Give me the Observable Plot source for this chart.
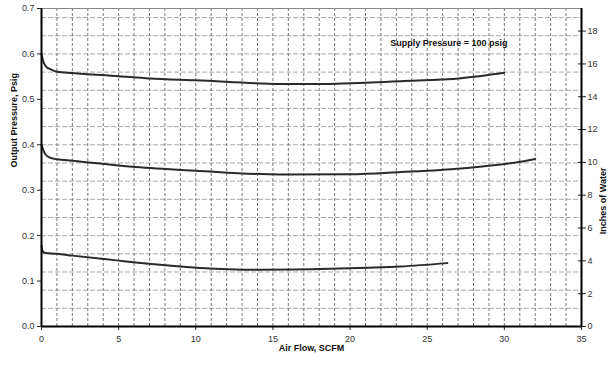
<!DOCTYPE html>
<html><head><meta charset="utf-8">
<script src="https://cdn.jsdelivr.net/npm/d3@7"></script>
<script src="https://cdn.jsdelivr.net/npm/@observablehq/plot@0.6"></script>
<style>body{margin:0;background:#fff;} #chart svg{display:block;}</style>
</head><body><div id="chart"></div>
<script>
const flow1 = [0,0.1,0.3,0.6,1,2,5,7,10,15.5,18,20,23.3,27.2,30];
const psi1  = [0.600,0.585,0.572,0.566,0.561,0.558,0.551,0.546,0.542,0.534,0.534,0.5356,0.540,0.5466,0.5585];
const flow2 = [0,0.1,0.25,0.47,1,2,6.1,10,15.5,20,23.3,27.2,31,32];
const psi2  = [0.400,0.390,0.379,0.373,0.368,0.365,0.351,0.343,0.3346,0.335,0.340,0.348,0.3625,0.369];
const flow3 = [0,0.05,0.15,0.5,1,2,5,6.1,10.3,14.2,18.7,23.3,26.3];
const psi3  = [0.178,0.168,0.163,0.161,0.160,0.156,0.145,0.141,0.129,0.125,0.127,0.132,0.1395];
const xTicks = [0,5,10,15,20,25,30,35];
const yTicks = [0,0.1,0.2,0.3,0.4,0.5,0.6,0.7];
const inchTicks = [0,2,4,6,8,10,12,14,16,18];
const psiPerInch = 1/27.68;
const annotation = "Supply Pressure = 100 psig";

const series = [
  flow1.map((x,i)=>({x, y:psi1[i], s:"A"})),
  flow2.map((x,i)=>({x, y:psi2[i], s:"B"})),
  flow3.map((x,i)=>({x, y:psi3[i], s:"C"}))
].flat();

const chart = Plot.plot({
  width: 610, height: 366,
  marginLeft: 41, marginRight: 29, marginTop: 8, marginBottom: 40,
  style: {fontFamily: "Liberation Sans, Arial, sans-serif", fontSize: "9px", color: "#222"},
  x: {domain: [0,35]},
  y: {domain: [0,0.7]},
  marks: [
    Plot.ruleY(d3.range(1,18).map(k=>k*0.04), {stroke:"#a8a8a8", strokeDasharray:"5,2", strokeWidth:1, strokeOpacity:1}),
    Plot.ruleX(d3.range(1,35), {stroke:"#777", strokeDasharray:"3,2", strokeWidth:1, strokeOpacity:1}),
    Plot.ruleY([0.7], {stroke:"#888", strokeWidth:1}),
    Plot.line(series, {x:"x", y:"y", z:"s", stroke:"#2a2a2a", strokeWidth:2, curve:"monotone-x"}),
    Plot.text([annotation], {x:26.4, y:0.623, text:d=>d, fontWeight:"bold", fontSize:9, fill:"#111"}),
    Plot.axisX({ticks: xTicks, tickSize: 4, tickPadding: 5, tickFormat: d=>d, label: null, fill:"#333"}),
    Plot.axisY({ticks: yTicks, tickSize: 4, tickPadding: 3, tickFormat: d3.format(".1f"), label: null, fill:"#333"}),
    Plot.axisY({anchor:"right", ticks: inchTicks.map(i=>i*psiPerInch), tickSize: 4, tickPadding: 2,
      tickFormat: v=>Math.round(v/psiPerInch), label: null, fill:"#333"}),
    Plot.axisY({anchor:"right", ticks: inchTicks.map(i=>i*psiPerInch), tickSize: -4, tickFormat: ()=>"", label: null}),
    Plot.ruleX([0], {stroke:"#000", strokeWidth:2}),
    Plot.ruleX([35], {stroke:"#000", strokeWidth:2}),
    Plot.ruleY([0], {stroke:"#000", strokeWidth:2}),
    Plot.text(["Output Pressure, Psig"], {frameAnchor:"left", dx:-27, rotate:-90, fontWeight:"bold", fontSize:9, fill:"#111"}),
    Plot.text(["Inches of Water"], {frameAnchor:"right", dx:22, rotate:-90, fontWeight:"bold", fontSize:9, fill:"#111"}),
    Plot.text(["Air Flow, SCFM"], {frameAnchor:"bottom", dy:24, fontWeight:"bold", fontSize:9, fill:"#111"})
  ]
});
document.getElementById("chart").appendChild(chart);
</script>
</body></html>
